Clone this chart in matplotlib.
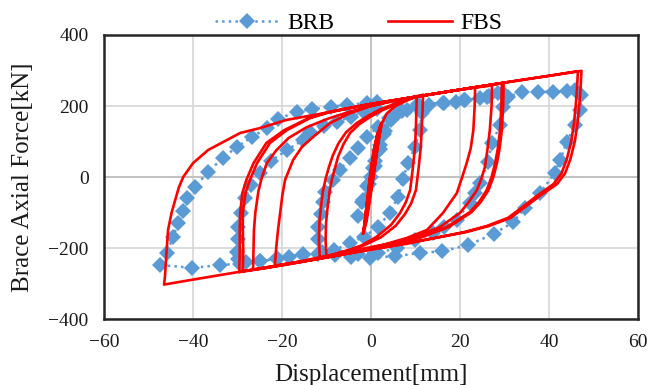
import matplotlib
matplotlib.use("Agg")
import matplotlib.pyplot as plt
import numpy as np

# BRB test points (displacement mm, force kN), in loading order
brb_small = [(0, 0), (1, 45), (2, 90), (3, 130), (4.2, 165), (3.2, 130), (2, 80),
             (0.8, 30), (-0.5, -20), (-1.8, -65), (-3, -110), (-2, -70), (-0.8, -25),
             (0.5, 25), (1.8, 75), (3, 120), (4.5, 160)]
brb_10 = [(6, 180), (8, 190), (10.3, 200), (11.4, 180), (11, 132), (9.9, 85), (8.3, 39),
          (7.2, -5), (6.1, -55), (4.3, -100), (1.6, -140), (-1.5, -168), (-4.7, -186),
          (-8.3, -206), (-11, -212), (-11.9, -175), (-11.9, -140), (-11.3, -105),
          (-10.8, -70), (-10.3, -41), (-8.5, -8), (-7, 20), (-4.7, 54), (-2.9, 82),
          (-1, 113), (1.5, 140), (4, 165), (7, 185), (10.5, 198)]
brb_28 = [(13, 203), (16.2, 208), (19, 212), (21, 217), (24.5, 222), (26.5, 228),
          (28.6, 236), (30.1, 231), (29.7, 197), (29, 146), (27.2, 96), (26.3, 42),
          (24.5, -17), (23.4, -45), (22.2, -73), (19.3, -121), (16.5, -142),
          (13.9, -158), (10, -178), (5.8, -200), (1.6, -214), (-3, -216), (-8, -215),
          (-12, -216), (-15.3, -217), (-18.5, -224), (-21.1, -229), (-24.9, -237),
          (-28, -240), (-29.8, -232), (-30.1, -211), (-29.9, -175), (-29.9, -140),
          (-29.2, -100), (-28.3, -60), (-27, -22), (-25, 12), (-22.5, 45),
          (-18.9, 76), (-15.3, 104), (-13.7, 127), (-10.5, 143), (-7.6, 155),
          (-4.5, 170), (-1.5, 183), (1.3, 192), (5.8, 200), (10.5, 205),
          (16.3, 209), (21.1, 217), (26, 226), (30.9, 226)]
brb_47 = [(33.9, 240), (37.5, 240), (41, 240), (44, 243), (45.8, 246), (47.3, 231),
          (47, 189), (45.8, 146), (44, 99), (42.5, 48), (41.3, 11), (38, -45),
          (34.6, -86), (32, -127), (27.6, -160), (21.8, -192), (16, -209), (11, -214),
          (5.4, -223), (-0.2, -228), (-4.5, -225), (-8.1, -221), (-15.3, -219),
          (-21.1, -230), (-24.9, -238), (-29.4, -244), (-33.9, -248), (-40.2, -256),
          (-47.4, -248), (-45.9, -214), (-44.5, -170), (-43.4, -130), (-42.2, -95),
          (-41.3, -59), (-39.6, -28), (-36.6, 14), (-33.3, 54), (-30.1, 85),
          (-26.7, 113), (-23.4, 138), (-20.9, 163), (-16.7, 184), (-13.3, 191),
          (-9, 198), (-5.5, 203), (-1, 208), (1.3, 211)]

# FBS analysis curve, in loading order
fbs_small = [(0, 0), (0.6, 50), (1.2, 100), (1.8, 130), (2.3, 150),
             (1.4, 120), (0.6, 70), (0.0, 20), (-0.5, -30), (-1.0, -80), (-1.4, -125), (-1.7, -158),
             (-1.0, -125), (-0.3, -70), (0.3, -20), (0.9, 30), (1.5, 85), (2.0, 125), (2.4, 152),
             (1.3, 115), (0.5, 65), (-0.1, 15), (-0.6, -40), (-1.1, -95), (-1.5, -135), (-1.8, -160),
             (-1.1, -120), (-0.4, -65), (0.4, -5), (1.0, 45), (1.6, 95), (2.1, 130), (2.4, 150)]
fbs_10 = [(3.5, 178), (5.5, 200), (8, 215), (10.3, 228),
          (10.2, 190), (10.1, 140), (9.9, 85), (9.4, 25), (8.8, -37), (7.8, -72), (6.5, -102),
          (4.5, -135), (1.3, -168), (-2, -192), (-5, -206), (-7, -212), (-10, -226),
          (-10.2, -180), (-10.1, -130), (-9.8, -90), (-9.3, -40), (-8.8, -8), (-8.1, 25),
          (-7.4, 57), (-6.2, 92), (-4.7, 124), (-2.5, 150), (-0.2, 169), (2.5, 188),
          (5.8, 205), (8.5, 220), (11.7, 232),
          (11.6, 190), (11.4, 140), (11.2, 85), (10.7, 25), (10.1, -37), (9, -75), (7.6, -105),
          (5.5, -138), (2.2, -170), (-1.5, -192), (-5, -207), (-8, -217), (-11.5, -229),
          (-11.7, -180), (-11.6, -130), (-11.3, -90), (-10.8, -40), (-10.2, -5), (-9.4, 30),
          (-8.6, 60), (-7.3, 95), (-5.6, 126), (-3.2, 152), (-0.7, 172), (2, 190),
          (5.5, 207), (10, 225), (15, 236), (20, 246), (23.4, 253)]
fbs_28 = [(23.3, 200), (23, 132), (22.4, 80), (21.5, 39), (20.5, 0), (19.3, -45),
          (16.2, -101), (12.6, -149), (8, -172), (3, -190), (-3, -205), (-10, -222),
          (-16, -238), (-21.6, -250),
          (-21.3, -200), (-20.9, -150), (-20.4, -101), (-19.9, -50), (-19.3, -8),
          (-17.5, 48), (-15.5, 85), (-13, 113), (-9.2, 152), (-5, 178), (0, 200),
          (5, 215), (10, 226), (15, 236), (20, 246), (27.2, 258),
          (27.1, 200), (26.7, 132), (26.2, 80), (25.6, 28), (24.8, -5), (23.8, -37),
          (22, -70), (20, -101), (15.5, -141), (11, -163), (5, -185), (0, -200),
          (-8, -222), (-16, -239), (-22, -252), (-26.5, -261),
          (-26.4, -210), (-26.3, -150), (-26.0, -101), (-25.3, -40), (-24.5, 0),
          (-23.4, 39), (-21.3, 75), (-18.5, 110), (-14.5, 140), (-9.5, 165),
          (-4.5, 185), (0, 200), (8, 222), (16, 238), (24, 254), (29.4, 264),
          (29.3, 200), (29, 132), (28.5, 80), (27.9, 39), (27.1, 0), (26, -37),
          (24.3, -70), (22.2, -99), (17, -141), (11, -169), (5, -188), (0, -202),
          (-8, -222), (-16, -240), (-24, -257), (-28.8, -265),
          (-28.7, -210), (-28.8, -150), (-28.8, -101), (-28.2, -45), (-27.2, -8),
          (-25.6, 39), (-22.7, 96), (-18.9, 132), (-13.7, 166), (-9.2, 183),
          (-4, 196), (0, 205), (8, 222), (16, 238), (24, 254), (29.8, 265),
          (29.7, 200), (29.4, 132), (28.9, 80), (28.3, 39), (27.5, 0), (26.4, -37),
          (24.7, -70), (22.6, -99), (17.5, -141), (11.5, -169), (5.5, -188), (0, -203),
          (-8, -222), (-16, -240), (-24, -257), (-29.6, -268),
          (-29.5, -210), (-29.5, -150), (-29.4, -101), (-28.9, -45), (-28, -8),
          (-26.4, 39), (-23.5, 96), (-19.5, 132), (-14, 166), (-9.5, 183), (-4, 197),
          (0, 206), (10, 226), (20, 246), (30, 266), (40, 285), (46.5, 298)]
fbs_47 = [(46.3, 250), (46, 200), (45.6, 150), (45, 100), (44, 50), (42.8, 10),
          (41, -20), (37.5, -51), (34, -85), (30.8, -115), (26, -138), (21, -155),
          (15, -170), (8, -186), (0, -205), (-10, -226), (-20, -247), (-30, -268),
          (-40, -289), (-46.5, -303),
          (-46.3, -280), (-46, -220), (-45.6, -149), (-44.8, -100), (-44, -65),
          (-43.2, -30), (-42.2, 0), (-40, 39), (-36.6, 76), (-32.4, 104), (-29.4, 124),
          (-24.9, 138), (-18.9, 161), (-14, 172), (-9.2, 183), (-4, 196), (0, 206),
          (10, 226), (20, 246), (30, 266), (40, 285), (47.3, 299),
          (47.1, 250), (46.8, 200), (46.4, 150), (45.8, 100), (44.8, 50), (43.6, 10),
          (41.8, -20), (38.2, -51), (34.6, -85), (31.4, -115), (26.5, -138),
          (21.4, -155), (15.2, -170), (8, -188), (2, -200)]

brb = np.array(brb_small + brb_10 + brb_28 + brb_47)
fbs = np.array(fbs_small + fbs_10 + fbs_28 + fbs_47)

plt.rcParams['font.family'] = ['Liberation Serif', 'DejaVu Serif']

fig = plt.figure(figsize=(6.52, 3.85), dpi=100)
ax = fig.add_axes([0.1595, 0.1714, 0.819, 0.7377])

ax.plot(brb[:, 0], brb[:, 1], linestyle=':', color='#5B9BD5', linewidth=1.8,
        marker='D', markersize=7.8, markeredgewidth=0, label='BRB', zorder=3)
ax.plot(fbs[:, 0], fbs[:, 1], color='#FF0000', linewidth=1.9, label='FBS', zorder=4)

ax.set_xlim(-60, 60)
ax.set_ylim(-400, 400)
ax.set_xticks(np.arange(-60, 61, 20))
ax.set_yticks(np.arange(-400, 401, 200))
ax.grid(True, color='#d9d9d9', linewidth=1.3)
ax.axvline(0, color='#c0c0c0', linewidth=1.3, zorder=1)
ax.axhline(0, color='#c0c0c0', linewidth=1.3, zorder=1)
ax.set_axisbelow(True)
ax.tick_params(length=0, pad=11, labelsize=14, colors='#1a1a1a')
for s in ax.spines.values():
    s.set_linewidth(1.8)
    s.set_color('#262626')

ax.set_xlabel('Displacement[mm]', fontsize=18, labelpad=9, color='#1a1a1a')
ax.set_ylabel('Brace Axial Force[kN]', fontsize=18, labelpad=10, color='#1a1a1a')

fig.legend(loc='center', bbox_to_anchor=(0.55, 0.94), ncol=2, frameon=False,
           fontsize=17, handlelength=2.7, handletextpad=0.35, columnspacing=2.3,
           numpoints=1)

fig.savefig('out.png', dpi=100)
